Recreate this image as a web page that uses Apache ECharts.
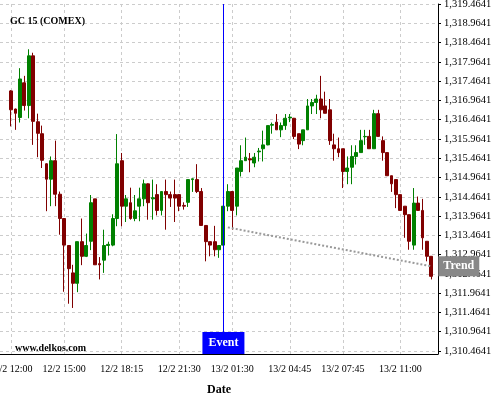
<!DOCTYPE html>
<html>
<head>
<meta charset="utf-8">
<script src="https://cdn.jsdelivr.net/npm/echarts@6/dist/echarts.min.js"></script>
<style>
  html, body { margin: 0; padding: 0; background: #fff; }
  #chart { width: 500px; height: 400px; }
</style>
</head>
<body>
<div id="chart"></div>
<script>
// 15 minute bars, the 23:00-00:00 session break is skipped
const categories = [
  '12/2 11:30','12/2 11:45','12/2 12:00','12/2 12:15','12/2 12:30','12/2 12:45',
  '12/2 13:00','12/2 13:15','12/2 13:30','12/2 13:45','12/2 14:00','12/2 14:15',
  '12/2 14:30','12/2 14:45','12/2 15:00','12/2 15:15','12/2 15:30','12/2 15:45',
  '12/2 16:00','12/2 16:15','12/2 16:30','12/2 16:45','12/2 17:00','12/2 17:15',
  '12/2 17:30','12/2 17:45','12/2 18:00','12/2 18:15','12/2 18:30','12/2 18:45',
  '12/2 19:00','12/2 19:15','12/2 19:30','12/2 19:45','12/2 20:00','12/2 20:15',
  '12/2 20:30','12/2 20:45','12/2 21:00','12/2 21:15','12/2 21:30','12/2 21:45',
  '12/2 22:00','12/2 22:15','12/2 22:30','12/2 22:45',
  '13/2 00:00','13/2 00:15','13/2 00:30','13/2 00:45','13/2 01:00','13/2 01:15',
  '13/2 01:30','13/2 01:45','13/2 02:00','13/2 02:15','13/2 02:30','13/2 02:45',
  '13/2 03:00','13/2 03:15','13/2 03:30','13/2 03:45','13/2 04:00','13/2 04:15',
  '13/2 04:30','13/2 04:45','13/2 05:00','13/2 05:15','13/2 05:30','13/2 05:45',
  '13/2 06:00','13/2 06:15','13/2 06:30','13/2 06:45','13/2 07:00','13/2 07:15',
  '13/2 07:30','13/2 07:45','13/2 08:00','13/2 08:15','13/2 08:30','13/2 08:45',
  '13/2 09:00','13/2 09:15','13/2 09:30','13/2 09:45','13/2 10:00','13/2 10:15',
  '13/2 10:30','13/2 10:45','13/2 11:00','13/2 11:15','13/2 11:30','13/2 11:45',
  '13/2 12:00','13/2 12:15','13/2 12:30','13/2 12:45','13/2 13:00'
];

const majorLabels = ['12/2 12:00', '12/2 15:00', '12/2 18:15', '12/2 21:30',
  '13/2 01:30', '13/2 04:45', '13/2 07:45', '13/2 11:00'];

const yTicks = [1310.4641, 1310.9641, 1311.4641, 1311.9641, 1312.4641, 1312.9641,
  1313.4641, 1313.9641, 1314.4641, 1314.9641, 1315.4641, 1315.9641, 1316.4641,
  1316.9641, 1317.4641, 1317.9641, 1318.4641, 1318.9641, 1319.4641];

const firstCandle = '12/2 12:00';
// open, close, low, high
const candles = [
  [1317.21, 1316.72, 1316.29, 1317.23], [1316.74, 1316.63, 1316.20, 1316.75],
  [1316.52, 1317.52, 1316.39, 1317.80], [1317.42, 1316.83, 1316.70, 1317.60],
  [1316.83, 1318.12, 1316.50, 1318.29], [1318.12, 1316.42, 1315.81, 1318.20],
  [1316.41, 1316.11, 1315.49, 1316.62], [1316.10, 1315.41, 1315.21, 1316.31],
  [1315.32, 1314.92, 1314.09, 1315.33], [1314.92, 1315.40, 1314.22, 1315.51],
  [1315.40, 1314.53, 1314.22, 1315.92], [1314.53, 1313.90, 1313.48, 1314.60],
  [1313.90, 1313.21, 1312.00, 1313.90], [1313.20, 1312.60, 1311.69, 1313.20],
  [1312.49, 1312.22, 1311.58, 1312.70], [1312.22, 1313.30, 1311.99, 1313.30],
  [1313.30, 1312.92, 1312.69, 1313.90], [1312.92, 1313.20, 1312.90, 1313.51],
  [1313.31, 1314.31, 1313.08, 1314.51], [1314.41, 1312.70, 1312.70, 1314.41],
  [1312.73, 1312.70, 1312.32, 1312.90], [1312.82, 1313.20, 1312.49, 1313.61],
  [1313.20, 1313.23, 1312.94, 1313.30], [1313.21, 1313.90, 1313.18, 1314.01],
  [1313.90, 1315.32, 1313.70, 1316.09], [1315.40, 1314.22, 1313.70, 1315.60],
  [1314.22, 1314.41, 1313.81, 1314.51], [1314.31, 1313.90, 1313.87, 1314.70],
  [1313.90, 1314.10, 1313.83, 1314.51], [1314.22, 1314.41, 1313.83, 1314.70],
  [1314.41, 1314.80, 1314.22, 1314.91], [1314.80, 1314.31, 1313.87, 1314.81],
  [1314.41, 1314.44, 1313.87, 1314.91], [1314.52, 1314.11, 1313.98, 1314.79],
  [1314.11, 1314.60, 1313.98, 1314.60], [1314.60, 1314.52, 1313.61, 1314.91],
  [1314.52, 1314.43, 1314.20, 1314.60], [1314.52, 1314.43, 1313.81, 1314.91],
  [1314.52, 1314.22, 1314.09, 1314.52], [1314.24, 1314.22, 1314.13, 1314.32],
  [1314.32, 1314.91, 1314.20, 1314.91], [1314.91, 1314.93, 1314.59, 1314.94],
  [1314.91, 1314.60, 1314.56, 1315.31], [1314.60, 1313.72, 1313.72, 1314.69],
  [1313.72, 1313.30, 1312.79, 1313.72], [1313.30, 1313.21, 1312.92, 1313.30],
  [1313.30, 1313.09, 1312.92, 1313.71], [1313.09, 1313.20, 1312.88, 1313.20],
  [1313.21, 1314.22, 1313.21, 1314.22], [1314.22, 1314.60, 1314.09, 1314.79],
  [1314.60, 1314.11, 1313.61, 1314.60], [1314.22, 1315.21, 1313.98, 1315.21],
  [1315.12, 1315.40, 1314.99, 1315.80], [1315.40, 1315.49, 1315.40, 1316.00],
  [1315.45, 1315.42, 1315.10, 1315.60], [1315.34, 1315.49, 1315.23, 1315.60],
  [1315.63, 1315.65, 1315.38, 1315.73], [1315.71, 1315.81, 1315.38, 1316.18],
  [1315.81, 1316.31, 1315.80, 1316.31], [1316.32, 1316.34, 1316.10, 1316.39],
  [1316.40, 1316.20, 1316.20, 1316.61], [1316.20, 1316.31, 1316.01, 1316.39],
  [1316.31, 1316.50, 1316.20, 1316.61], [1316.51, 1316.53, 1316.40, 1316.61],
  [1316.50, 1316.03, 1315.96, 1316.51], [1316.10, 1315.83, 1315.70, 1316.10],
  [1315.92, 1316.20, 1315.80, 1316.20], [1316.20, 1316.82, 1316.20, 1317.00],
  [1316.82, 1316.91, 1316.61, 1317.00], [1316.91, 1317.00, 1316.61, 1317.11],
  [1317.00, 1316.72, 1316.50, 1317.60], [1316.82, 1316.63, 1316.63, 1317.19],
  [1316.72, 1315.92, 1315.81, 1317.00], [1315.81, 1315.71, 1315.40, 1316.10],
  [1315.71, 1315.61, 1315.49, 1316.00], [1315.71, 1315.12, 1314.69, 1315.71],
  [1315.12, 1315.21, 1314.79, 1315.51], [1315.23, 1315.51, 1314.79, 1315.80],
  [1315.51, 1315.61, 1315.30, 1315.80], [1315.61, 1315.92, 1315.61, 1316.20],
  [1316.02, 1316.03, 1315.81, 1316.20], [1316.03, 1315.71, 1315.71, 1316.20],
  [1315.71, 1316.62, 1315.71, 1316.72], [1316.62, 1316.03, 1316.03, 1316.72],
  [1315.92, 1315.61, 1315.40, 1316.03], [1315.61, 1315.01, 1315.01, 1315.61],
  [1315.01, 1314.80, 1314.59, 1315.01], [1314.91, 1314.52, 1314.17, 1314.91],
  [1314.52, 1314.11, 1314.11, 1314.52], [1314.22, 1314.00, 1313.40, 1314.22],
  [1314.00, 1313.31, 1313.09, 1314.00], [1313.21, 1314.30, 1313.09, 1314.69],
  [1314.30, 1314.11, 1314.11, 1314.47], [1314.11, 1313.40, 1313.09, 1314.41],
  [1313.31, 1312.92, 1312.79, 1313.31], [1312.92, 1312.40, 1312.32, 1312.92]
];

const eventTime = '13/2 01:00';
const trendTimes = ['13/2 01:15', '13/2 12:45'];
const trendValues = [1313.67, 1312.66];

const font = '"Liberation Serif", "DejaVu Serif", serif';

// minor ticks: each labelled span split in four
const majorIdx = majorLabels.map(l => categories.indexOf(l));
const tickIdx = new Set(majorIdx);
for (let i = 0; i < majorIdx.length - 1; i++) {
  const a = majorIdx[i], b = majorIdx[i + 1];
  for (let q = 1; q < 4; q++) tickIdx.add(Math.round(a + (b - a) * q / 4));
}
const lastMajor = majorIdx[majorIdx.length - 1];
tickIdx.add(lastMajor + 3);
tickIdx.add(lastMajor + 6);

function fmtPrice(v) {
  const parts = v.toFixed(4).split('.');
  return parts[0].replace(/\B(?=(\d{3})+$)/g, ',') + '.' + parts[1];
}

const start = categories.indexOf(firstCandle);
const candleData = candles.map((c, k) => [start + k].concat(c));

const chart = echarts.init(document.getElementById('chart'));
chart.setOption({
  animation: false,
  backgroundColor: '#fff',
  title: [
    {
      text: 'GC 15 (COMEX)', left: 10, top: 16.5, padding: 0,
      textStyle: { fontFamily: font, fontSize: 10, fontWeight: 'bold', color: '#000' }
    },
    {
      text: 'www.delkos.com', left: 15, top: 343.5, padding: 0,
      textStyle: { fontFamily: font, fontSize: 10, fontWeight: 'bold', color: '#000' }
    }
  ],
  grid: { left: 0, right: 62, top: 4, bottom: 46, outerBoundsMode: 'none', containLabel: false },
  xAxis: {
    type: 'category',
    data: categories,
    boundaryGap: true,
    name: 'Date',
    nameLocation: 'middle',
    nameGap: 30,
    nameTextStyle: { fontFamily: font, fontSize: 12, fontWeight: 'bold', color: '#000' },
    axisLine: { lineStyle: { color: '#000', width: 1 } },
    axisTick: {
      alignWithLabel: true, length: 4,
      interval: (i) => tickIdx.has(i),
      lineStyle: { color: '#000' }
    },
    axisLabel: {
      interval: (i, v) => majorLabels.includes(v),
      margin: 10, fontFamily: font, fontSize: 10, color: '#000'
    },
    splitLine: {
      show: true, alignWithLabel: true,
      interval: (i, v) => majorLabels.includes(v),
      lineStyle: { color: '#cccccc', type: [3, 3], width: 1 }
    }
  },
  yAxis: {
    type: 'value',
    position: 'right',
    min: 1310.386,
    max: 1319.4641,
    axisLine: { show: true, lineStyle: { color: '#000', width: 1 } },
    axisTick: { show: true, length: 3, customValues: yTicks, lineStyle: { color: '#000' } },
    axisLabel: {
      customValues: yTicks, formatter: fmtPrice, margin: 6,
      fontFamily: font, fontSize: 10.5, color: '#000'
    },
    splitLine: { show: true, lineStyle: { color: '#cccccc', type: [3, 3], width: 1 } }
  },
  series: [
    {
      type: 'candlestick',
      data: candleData,
      encode: { x: 0, y: [1, 2, 3, 4] },
      barWidth: 3.4,
      itemStyle: {
        color: '#008000', color0: '#800000',
        borderColor: '#008000', borderColor0: '#800000', borderWidth: 1
      },
      markLine: {
        silent: true,
        symbol: 'none',
        lineStyle: { color: '#0000ff', width: 1, type: 'solid' },
        label: {
          show: true, position: 'start', formatter: 'Event', distance: -22,
          color: '#fff', backgroundColor: '#0000ff', padding: [5, 6, 5, 6],
          fontFamily: font, fontSize: 12, fontWeight: 'bold'
        },
        data: [{ xAxis: eventTime }]
      }
    },
    {
      type: 'line',
      data: trendTimes.map((t, i) => [t, trendValues[i]]),
      symbol: 'none',
      silent: true,
      z: 3,
      lineStyle: { color: '#999999', width: 2, type: [2, 2] },
      endLabel: {
        show: true, formatter: 'Trend', distance: 7,
        color: '#fff', backgroundColor: '#888888', padding: [4, 5, 4, 5],
        fontFamily: font, fontSize: 12, fontWeight: 'bold'
      }
    }
  ]
});
window.addEventListener('resize', chart.resize);
</script>
</body>
</html>
